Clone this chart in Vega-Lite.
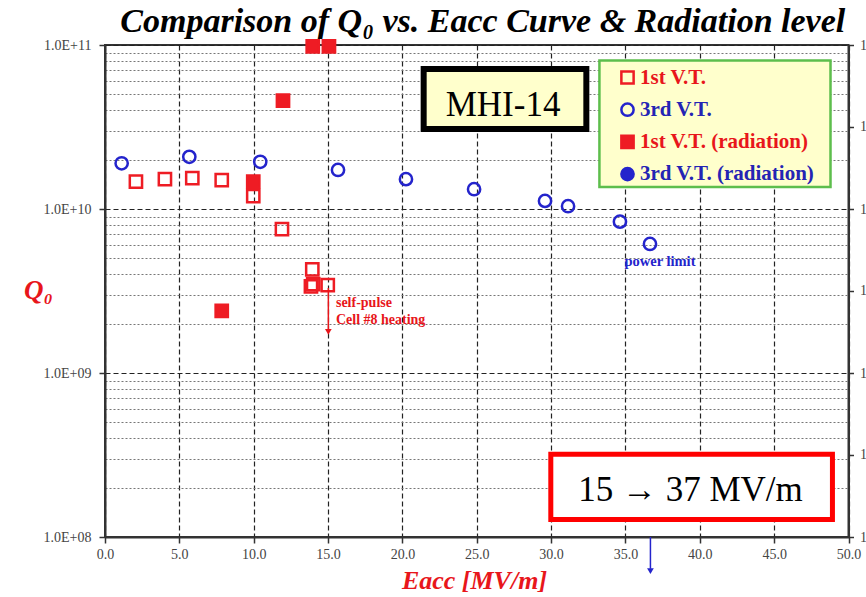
{
  "$schema": "https://vega.github.io/schema/vega-lite/v6.json",
  "width": 743.5,
  "height": 492,
  "autosize": {"type": "none"},
  "padding": {"left": 105, "top": 45, "right": 17.5, "bottom": 60},
  "background": "white",
  "config": {
    "view": {"stroke": "#333", "strokeWidth": 2},
    "legend": {
      "orient": "none",
      "legendX": 512,
      "legendY": 22,
      "title": null,
      "padding": 0,
      "rowPadding": 9.2,
      "labelFont": "Liberation Serif",
      "labelFontSize": 21,
      "labelFontWeight": "bold",
      "labelOffset": 2,
      "labelLimit": 300,
      "symbolStrokeWidth": 2.5,
      "symbolSize": 150,
      "symbolOpacity": 1
    }
  },
  "title": {
    "text": "Comparison of Q₀ vs. Eacc Curve & Radiation level",
    "font": "Liberation Serif",
    "fontSize": 34,
    "fontStyle": "italic",
    "fontWeight": "bold",
    "color": "#000",
    "anchor": "middle",
    "offset": -4,
    "dx": 6
  },
  "resolve": {"scale": {"y": "shared", "x": "shared"}, "axis": {"y": "independent", "x": "independent"}},
  "layer": [
    {
      "data": {"values": [{}]},
      "mark": {"type": "rect", "fill": "#FFFFCC", "stroke": "#5DBE4C", "strokeWidth": 2.5},
      "encoding": {
        "x": {"datum": 33.25, "type": "quantitative", "axis": null},
        "x2": {"datum": 48.79},
        "y": {"datum": 80400000000, "type": "quantitative",
          "axis": {"orient": "left", "values": [200000000, 300000000, 400000000, 500000000, 600000000, 700000000, 800000000, 900000000, 2000000000, 3000000000, 4000000000, 5000000000, 6000000000, 7000000000, 8000000000, 9000000000, 20000000000, 30000000000, 40000000000, 50000000000, 60000000000, 70000000000, 80000000000, 90000000000],
            "grid": true, "gridDash": [2, 2], "gridColor": "#777", "gridWidth": 1, "labels": false, "ticks": false, "domain": false, "title": null}},
        "y2": {"datum": 13600000000}
      }
    },
    {
      "data": {"values": [{}]},
      "mark": {"type": "rect", "fill": "#FFFFCC", "stroke": "#000", "strokeWidth": 6},
      "encoding": {
        "x": {"datum": 21.43, "type": "quantitative", "axis": null},
        "x2": {"datum": 32.37},
        "y": {"datum": 71400000000, "type": "quantitative",
          "axis": {"orient": "right", "values": [100000000, 316230000, 1000000000, 3162300000, 10000000000, 31623000000, 100000000000],
            "grid": false, "labelExpr": "'1.0E+03'", "tickSize": 5, "labelPadding": 6, "labelFont": "Liberation Serif", "labelFontSize": 14, "labelColor": "#444", "domainColor": "#333", "domainWidth": 2, "tickColor": "#333", "tickWidth": 1.5, "title": null}},
        "y2": {"datum": 30800000000}
      }
    },
    {
      "data": {"values": [{}]},
      "mark": {"type": "rect", "fill": "#FFFFFF", "stroke": "#FF0000", "strokeWidth": 5},
      "encoding": {
        "x": {"datum": 29.98, "type": "quantitative", "axis": null},
        "x2": {"datum": 48.92},
        "y": {"datum": 320000000, "type": "quantitative", "axis": null},
        "y2": {"datum": 128000000}
      }
    },
    {
      "data": {"values": [
        {"E": 1.12, "Q": 19000000000, "series": "3rd V.T."},
        {"E": 5.67, "Q": 20800000000, "series": "3rd V.T."},
        {"E": 10.44, "Q": 19400000000, "series": "3rd V.T."},
        {"E": 15.67, "Q": 17300000000, "series": "3rd V.T."},
        {"E": 20.24, "Q": 15200000000, "series": "3rd V.T."},
        {"E": 24.82, "Q": 13200000000, "series": "3rd V.T."},
        {"E": 29.59, "Q": 11200000000, "series": "3rd V.T."},
        {"E": 31.14, "Q": 10400000000, "series": "3rd V.T."},
        {"E": 34.63, "Q": 8370000000, "series": "3rd V.T."},
        {"E": 36.65, "Q": 6120000000, "series": "3rd V.T."},
        {"E": 2.08, "Q": 14700000000, "series": "1st V.T."},
        {"E": 4.03, "Q": 15200000000, "series": "1st V.T."},
        {"E": 5.87, "Q": 15400000000, "series": "1st V.T."},
        {"E": 7.85, "Q": 15000000000, "series": "1st V.T."},
        {"E": 9.97, "Q": 12000000000, "series": "1st V.T."},
        {"E": 11.9, "Q": 7550000000, "series": "1st V.T."},
        {"E": 13.94, "Q": 4290000000, "series": "1st V.T."},
        {"E": 13.85, "Q": 3380000000, "series": "1st V.T."},
        {"E": 14.0, "Q": 3480000000, "series": "1st V.T."},
        {"E": 14.98, "Q": 3440000000, "series": "1st V.T."},
        {"E": 13.97, "Q": 98000000000, "series": "1st V.T. (radiation)"},
        {"E": 15.06, "Q": 98000000000, "series": "1st V.T. (radiation)"},
        {"E": 11.97, "Q": 45800000000, "series": "1st V.T. (radiation)"},
        {"E": 9.97, "Q": 14700000000, "series": "1st V.T. (radiation)"},
        {"E": 7.85, "Q": 2390000000, "series": "1st V.T. (radiation)"}
      ]},
      "mark": {"type": "point", "size": 150, "strokeWidth": 2.5, "opacity": 1},
      "encoding": {
        "x": {"field": "E", "type": "quantitative",
          "scale": {"domain": [0, 50], "nice": false, "zero": false},
          "axis": {"orient": "bottom", "values": [0, 5, 10, 15, 20, 25, 30, 35, 40, 45, 50], "format": ".1f",
            "grid": true, "gridDash": [5, 3], "gridColor": "#222", "gridWidth": 1.2,
            "domainColor": "#333", "domainWidth": 2, "tickColor": "#333", "tickWidth": 1.5, "tickSize": 6,
            "labelFont": "Liberation Serif", "labelFontSize": 14, "labelColor": "#444", "labelPadding": 4, "labelFlush": false,
            "title": "Eacc [MV/m]", "titleFont": "Liberation Serif", "titleFontSize": 26, "titleFontStyle": "italic", "titleFontWeight": "bold", "titleColor": "#E8161B",
            "titleX": 369, "titleY": 51, "titleAlign": "center", "titleBaseline": "alphabetic"}},
        "y": {"field": "Q", "type": "quantitative",
          "scale": {"type": "log", "domain": [100000000, 100000000000], "nice": false},
          "axis": {"orient": "left", "values": [100000000, 1000000000, 10000000000, 100000000000],
            "labelExpr": "datum.value > 5e10 ? '1.0E+11' : datum.value > 5e9 ? '1.0E+10' : datum.value > 5e8 ? '1.0E+09' : '1.0E+08'",
            "grid": true, "gridDash": [5, 3], "gridColor": "#222", "gridWidth": 1.2,
            "domainColor": "#333", "domainWidth": 2, "tickColor": "#333", "tickWidth": 1.5, "tickSize": 6,
            "labelFont": "Liberation Serif", "labelFontSize": 14, "labelColor": "#444", "labelPadding": 8,
            "title": "Q₀", "titleFont": "Liberation Serif", "titleFontSize": 27, "titleFontStyle": "italic", "titleFontWeight": "bold", "titleColor": "#E8161B",
            "titleAngle": 0, "titleX": -67, "titleY": 245, "titleAlign": "center", "titleBaseline": "middle"}},
        "shape": {"field": "series", "type": "nominal",
          "scale": {"domain": ["1st V.T.", "3rd V.T.", "1st V.T. (radiation)", "3rd V.T. (radiation)"], "range": ["square", "circle", "square", "circle"]},
          "legend": {"encode": {"labels": {"update": {"fill": {"signal": "indexof(datum.value, '1st') === 0 ? '#E8161B' : '#2424B4'"}}}}}},
        "stroke": {"field": "series", "type": "nominal",
          "scale": {"domain": ["1st V.T.", "3rd V.T.", "1st V.T. (radiation)", "3rd V.T. (radiation)"], "range": ["#EE1C24", "#2424CC", "#EE1C24", "#2424CC"]},
          "legend": {"encode": {"labels": {"update": {"fill": {"signal": "indexof(datum.value, '1st') === 0 ? '#E8161B' : '#2424B4'"}}}}}},
        "fill": {"field": "series", "type": "nominal",
          "scale": {"domain": ["1st V.T.", "3rd V.T.", "1st V.T. (radiation)", "3rd V.T. (radiation)"], "range": ["transparent", "transparent", "#EE1C24", "#2424CC"]},
          "legend": {"encode": {"labels": {"update": {"fill": {"signal": "indexof(datum.value, '1st') === 0 ? '#E8161B' : '#2424B4'"}}}}}}
      }
    },
    {
      "data": {"values": [
        {"label": "MHI-14", "E": 26.77, "Q": 43100000000},
        {"label": "15 → 37 MV/m", "E": 39.37, "Q": 194000000}
      ]},
      "mark": {"type": "text", "font": "Liberation Serif", "fontSize": 35, "color": "#000", "align": "center", "baseline": "middle"},
      "encoding": {
        "x": {"field": "E", "type": "quantitative", "axis": null},
        "y": {"field": "Q", "type": "quantitative", "axis": null},
        "text": {"field": "label"}
      }
    },
    {
      "data": {"values": [{"label": "power limit", "E": 37.32, "Q": 4770000000}]},
      "mark": {"type": "text", "font": "Liberation Serif", "fontSize": 14.5, "fontWeight": "bold", "color": "#2424CC", "align": "center", "baseline": "middle"},
      "encoding": {
        "x": {"field": "E", "type": "quantitative", "axis": null},
        "y": {"field": "Q", "type": "quantitative", "axis": null},
        "text": {"field": "label"}
      }
    },
    {
      "data": {"values": [
        {"label": "self-pulse", "E": 15.53, "Q": 2660000000},
        {"label": "Cell #8 heating", "E": 15.53, "Q": 2100000000}
      ]},
      "mark": {"type": "text", "font": "Liberation Serif", "fontSize": 14, "fontWeight": "bold", "color": "#E8161B", "align": "left", "baseline": "middle"},
      "encoding": {
        "x": {"field": "E", "type": "quantitative", "axis": null},
        "y": {"field": "Q", "type": "quantitative", "axis": null},
        "text": {"field": "label"}
      }
    },
    {
      "data": {"values": [{}]},
      "mark": {"type": "rule", "color": "#E8161B", "strokeWidth": 1.5},
      "encoding": {
        "x": {"datum": 15.02, "type": "quantitative", "axis": null},
        "y": {"datum": 3300000000, "type": "quantitative", "axis": null},
        "y2": {"datum": 1800000000}
      }
    },
    {
      "data": {"values": [{}]},
      "mark": {"type": "point", "shape": "triangle-down", "filled": true, "color": "#E8161B", "size": 45, "opacity": 1},
      "encoding": {
        "x": {"datum": 15.02, "type": "quantitative", "axis": null},
        "y": {"datum": 1780000000, "type": "quantitative", "axis": null}
      }
    },
    {
      "data": {"values": [{}]},
      "mark": {"type": "rule", "color": "#2424CC", "strokeWidth": 1.5},
      "encoding": {
        "x": {"datum": 36.68, "type": "quantitative", "axis": null},
        "y": {"datum": 100000000, "type": "quantitative", "axis": null},
        "y2": {"datum": 64000000}
      }
    },
    {
      "data": {"values": [{}]},
      "mark": {"type": "point", "shape": "triangle-down", "filled": true, "color": "#2424CC", "size": 45, "opacity": 1},
      "encoding": {
        "x": {"datum": 36.68, "type": "quantitative", "axis": null},
        "y": {"datum": 62000000, "type": "quantitative", "axis": null}
      }
    }
  ]
}
